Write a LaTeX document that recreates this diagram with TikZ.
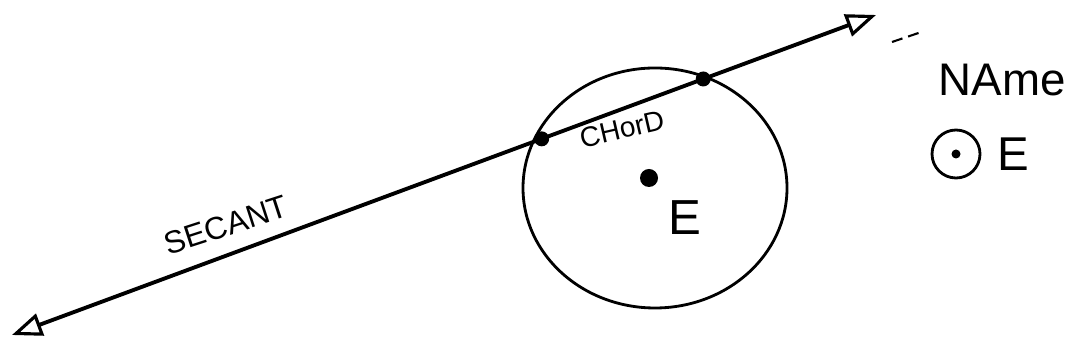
\documentclass[tikz,border=0pt]{standalone}
\usepackage{fontspec}
\setmainfont{Liberation Sans}
\usetikzlibrary{arrows.meta,positioning}
\tikzset{
  secantline/.style={
    {Triangle[open,length=6mm,width=4.6mm,line width=1.8pt]}-{Triangle[open,length=6mm,width=4.6mm,line width=1.8pt]},
    line width=2.2pt
  },
  roundline/.style={
    line width=1.6pt
  },
  ptdot/.style={
    circle,
    fill=black,
    inner sep=0pt,
    minimum size=0.30cm
  },
  handtext/.style={
    inner sep=0pt,
    anchor=center
  },
  namering/.style={
    circle,
    draw=black,
    line width=1.6pt,
    inner sep=0pt,
    minimum size=0.96cm
  }
}

\begin{document}
\begin{tikzpicture}
  \useasboundingbox (0,0) rectangle (21.54,7.2);
  % secant line through the circle
  \coordinate (lefttip) at (0.24,0.50);
  \coordinate (righttip) at (17.52,6.90);
  \draw[secantline] (lefttip) -- (righttip);
  \path (lefttip) -- (righttip)
    node[ptdot, pos=0.613] (chordA) {}
    node[ptdot, pos=0.800] (chordB) {};
  \draw[line width=1.2pt, dash pattern=on 0.22cm off 0.12cm] (17.84,6.36) -- (18.40,6.55);
  % circle E
  \coordinate (ctr) at (13.10,3.44);
  \draw[roundline] (ctr) ellipse[x radius=2.64cm, y radius=2.40cm];
  \node[ptdot, minimum size=0.36cm] (cdot) at (12.98,3.64) {};
  \node[handtext, font=\fontsize{28}{30}\selectfont] (elabel) at (13.70,2.84) {E};
  \node[handtext, rotate=13, font=\fontsize{16}{18}\selectfont] (chordlabel) at (12.44,4.62) {CHorD};
  \node[handtext, rotate=18, font=\fontsize{18}{20}\selectfont] (secantlabel) at (4.52,2.70) {SECANT};
  % naming
  \node[handtext, font=\fontsize{26}{28}\selectfont] (namelabel) at (20.04,5.60) {NAme};
  \node[namering] (ring) at (19.12,4.12) {};
  \fill (ring.center) circle (0.09);
  \node[handtext, font=\fontsize{27}{29}\selectfont, right=0.32cm of ring] (ringE) {E};
\end{tikzpicture}
\end{document}
